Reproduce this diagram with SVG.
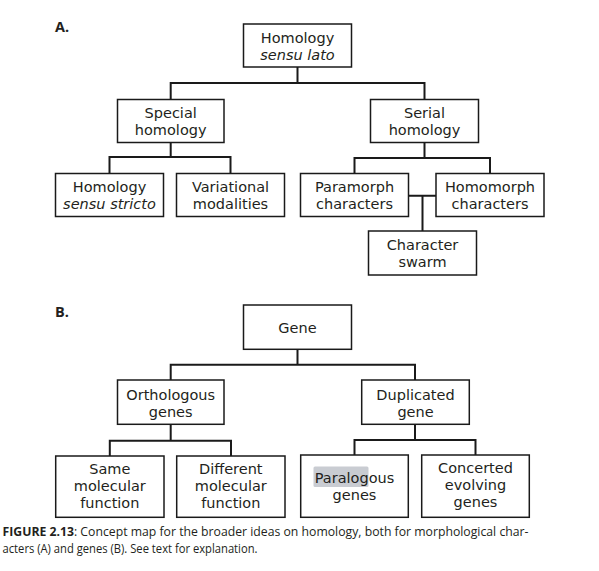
<svg xmlns="http://www.w3.org/2000/svg" width="599" height="571" viewBox="0 0 599 571">
<style>
.box{fill:#fff;stroke:#1a1a1a;stroke-width:1.5}
.t{font-family:"DejaVu Sans","Open Sans",sans-serif;font-size:14.5px;fill:#231f20;text-anchor:middle}
.i{font-style:italic}
.lbl{font-family:"Open Sans","Noto Sans",sans-serif;font-size:14.5px;font-weight:bold;fill:#231f20}
.cap{font-family:"Open Sans","Noto Sans",sans-serif;font-size:12.4px;fill:#231f20}
.con{fill:none;stroke:#1a1a1a;stroke-width:2}
</style>
<rect width="599" height="571" fill="#fff"/>
<text class="lbl" x="55" y="32">A.</text>
<text class="lbl" x="55" y="317">B.</text>
<g id="connectors">
<path class="con" d="M297.5 67V83M170.7 99.5V83H424.5V99.5"/>
<path class="con" d="M170.7 142.5V157M109.5 173.5V157H230.5V173.5"/>
<path class="con" d="M424.5 142.5V158M354.5 173.5V158H490V173.5"/>
<path class="con" d="M408.5 195.7H436M422.5 195.7V231"/>
<path class="con" d="M297.5 349.3V364.7M170.7 380V364.7H415V380"/>
<path class="con" d="M170.7 424.3V440.7M109.8 456V440.7H231V456"/>
<path class="con" d="M415 424.3V440M354.5 455V440H475.5V455"/>
</g>
<g id="homology-sensu-lato"><rect class="box" x="243.5" y="24" width="108" height="43"/><text class="t" x="297.5" y="42.5">Homology</text><text class="t i" x="297.5" y="59.5">sensu lato</text></g>
<g id="special-homology"><rect class="box" x="117.5" y="99.5" width="106.5" height="43"/><text class="t" x="170.7" y="118">Special</text><text class="t" x="170.7" y="135">homology</text></g>
<g id="serial-homology"><rect class="box" x="370.5" y="99.5" width="108" height="43"/><text class="t" x="424.5" y="118">Serial</text><text class="t" x="424.5" y="135">homology</text></g>
<g id="homology-sensu-stricto"><rect class="box" x="55.5" y="173.5" width="108" height="43"/><text class="t" x="109.5" y="192">Homology</text><text class="t i" x="109.5" y="209">sensu stricto</text></g>
<g id="variational-modalities"><rect class="box" x="176.5" y="173.5" width="108" height="43"/><text class="t" x="230.5" y="192">Variational</text><text class="t" x="230.5" y="209">modalities</text></g>
<g id="paramorph-characters"><rect class="box" x="300.5" y="173.5" width="108" height="43"/><text class="t" x="354.5" y="192">Paramorph</text><text class="t" x="354.5" y="209">characters</text></g>
<g id="homomorph-characters"><rect class="box" x="436" y="173.5" width="108" height="43"/><text class="t" x="490" y="192">Homomorph</text><text class="t" x="490" y="209">characters</text></g>
<g id="character-swarm"><rect class="box" x="368.5" y="231" width="108" height="44"/><text class="t" x="422.5" y="250">Character</text><text class="t" x="422.5" y="267">swarm</text></g>
<g id="gene"><rect class="box" x="243.5" y="305" width="108" height="44.3"/><text class="t" x="297.5" y="332.5">Gene</text></g>
<g id="orthologous-genes"><rect class="box" x="117.5" y="380" width="106.5" height="44.3"/><text class="t" x="170.7" y="399.5">Orthologous</text><text class="t" x="170.7" y="416.5">genes</text></g>
<g id="duplicated-gene"><rect class="box" x="361.7" y="380" width="107.6" height="44.3"/><text class="t" x="415.5" y="399.5">Duplicated</text><text class="t" x="415.5" y="416.5">gene</text></g>
<g id="same-molecular-function"><rect class="box" x="55.7" y="456" width="108.3" height="61.3"/><text class="t" x="109.8" y="473.5">Same</text><text class="t" x="109.8" y="490.5">molecular</text><text class="t" x="109.8" y="507.5">function</text></g>
<g id="different-molecular-function"><rect class="box" x="176.7" y="456" width="108.3" height="61.3"/><text class="t" x="230.8" y="473.5">Different</text><text class="t" x="230.8" y="490.5">molecular</text><text class="t" x="230.8" y="507.5">function</text></g>
<g id="paralogous-genes"><rect class="box" x="300.7" y="455" width="107.6" height="62.3"/><rect x="313.5" y="466.5" width="55" height="20.5" rx="1.5" fill="#c9ccd2"/><text class="t" x="354.5" y="483">Paralogous</text><text class="t" x="354.5" y="500">genes</text></g>
<g id="concerted-evolving-genes"><rect class="box" x="421.7" y="455" width="107.6" height="62.3"/><text class="t" x="475.5" y="472.5">Concerted</text><text class="t" x="475.5" y="489.5">evolving</text><text class="t" x="475.5" y="506.5">genes</text></g>
<text class="cap" x="2.5" y="536" textLength="526" lengthAdjust="spacingAndGlyphs"><tspan font-weight="bold">FIGURE 2.13</tspan>: Concept map for the broader ideas on homology, both for morphological char-</text>
<text class="cap" x="2.5" y="553" textLength="255" lengthAdjust="spacingAndGlyphs">acters (A) and genes (B). See text for explanation.</text>
</svg>
